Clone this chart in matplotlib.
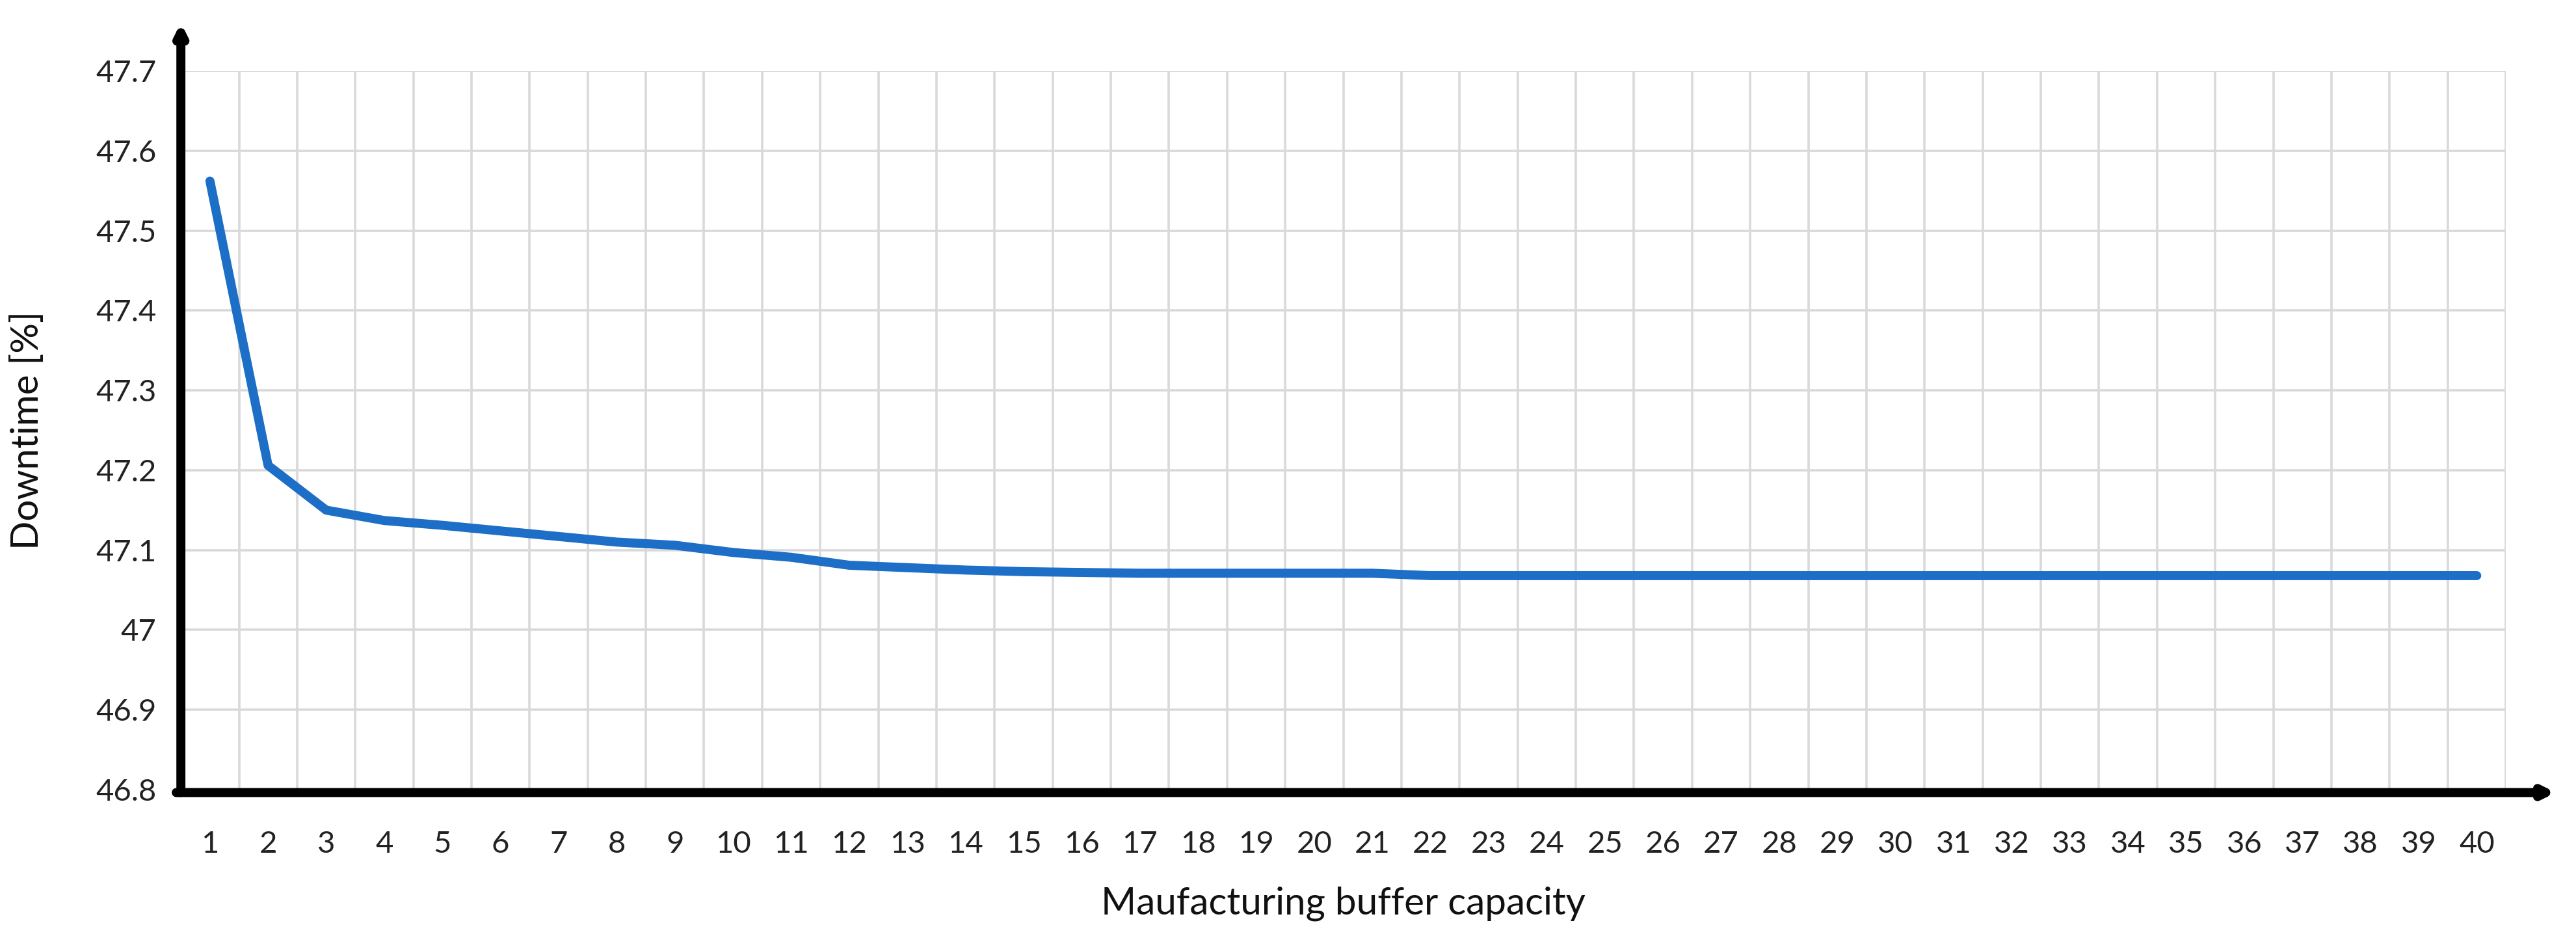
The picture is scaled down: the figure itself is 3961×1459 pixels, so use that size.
import numpy as np
import matplotlib
matplotlib.use("Agg")
import matplotlib.pyplot as plt

plt.rcParams['font.family'] = ['Lato', 'DejaVu Sans']

capacity = list(range(1, 41))
downtime = [47.562, 47.206, 47.150, 47.137, 47.131, 47.124, 47.117, 47.110, 47.106, 47.097,
            47.091, 47.081, 47.078, 47.075, 47.073, 47.072, 47.071, 47.071, 47.071, 47.071,
            47.071] + [47.068] * 19
y_ticks = [46.8, 46.9, 47.0, 47.1, 47.2, 47.3, 47.4, 47.5, 47.6, 47.7]
y_labels = ["46.8", "46.9", "47", "47.1", "47.2", "47.3", "47.4", "47.5", "47.6", "47.7"]

fig = plt.figure(figsize=(39.62, 14.59), dpi=100)
ax = fig.add_axes([0.0702, 0.1679, 0.9023, 0.7574])

ax.plot(capacity, downtime, color="#1c6ec6", linewidth=10, solid_capstyle="round",
        solid_joinstyle="round", zorder=3)

ax.set_xlim(0.5, 40.5)
ax.set_ylim(46.8, 47.7)
ax.set_xticks(capacity)
ax.set_xticklabels([str(c) for c in capacity])
ax.set_yticks(y_ticks)
ax.set_yticklabels(y_labels)

# gridlines sit between categories, like a category axis
ax.set_xticks(np.arange(1.5, 41, 1), minor=True)
ax.grid(True, which="minor", axis="x", color="#d9d9d9", linewidth=2.6)
ax.grid(True, which="major", axis="y", color="#d9d9d9", linewidth=2.6)
ax.set_axisbelow(True)
ax.tick_params(which="both", length=0)
ax.tick_params(axis="x", labelsize=34, pad=45, colors="#222222")
ax.tick_params(axis="y", labelsize=34, pad=27, colors="#222222")

for s in ax.spines.values():
    s.set_visible(False)

# axis arrows
arrow = dict(arrowstyle="-|>,head_length=0.9,head_width=0.45", color="black", lw=10,
             shrinkA=0, shrinkB=0, capstyle="round", joinstyle="round")
ax.annotate("", xy=(0, 1.067), xytext=(0, -0.004), xycoords="axes fraction",
            arrowprops=arrow, annotation_clip=False)
ax.annotate("", xy=(1.0215, -0.004), xytext=(-0.002, -0.004), xycoords="axes fraction",
            arrowprops=arrow, annotation_clip=False)

ax.set_xlabel("Maufacturing buffer capacity", fontsize=42, labelpad=32, color="#111111")
ax.set_ylabel("Downtime [%]", fontsize=42, labelpad=56, color="#111111")

fig.savefig("out.png", dpi=100, facecolor="white")
